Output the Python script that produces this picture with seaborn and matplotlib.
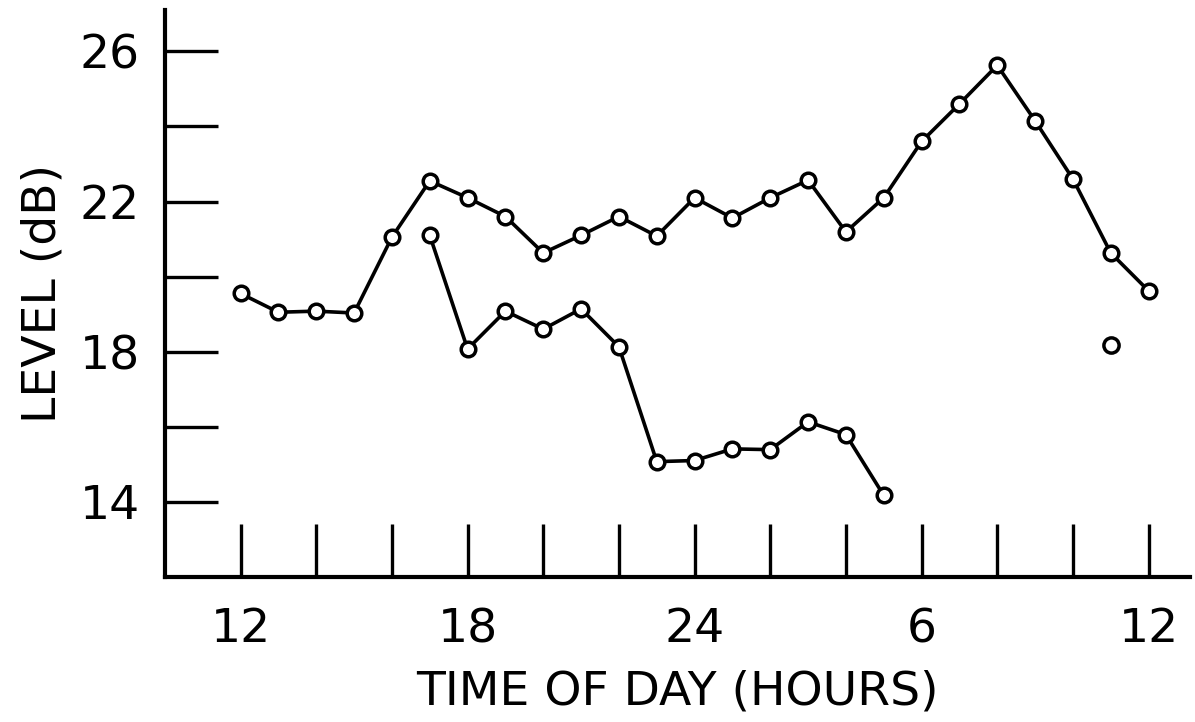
import matplotlib
matplotlib.use("Agg")
import matplotlib.pyplot as plt
import seaborn as sns
import pandas as pd

# hours since noon of day 1 (12 .. 36 = noon next day)
upper_hours = list(range(12, 37))
upper_level = [19.55, 19.05, 19.08, 19.03, 21.05, 22.55, 22.1, 21.6, 20.63, 21.1,
               21.6, 21.08, 22.1, 21.56, 22.1, 22.57, 21.19, 22.1, 23.6, 24.6,
               25.63, 24.15, 22.6, 20.63, 19.62]

lower_hours = list(range(17, 30))
lower_level = [21.1, 18.07, 19.08, 18.6, 19.14, 18.13, 15.07, 15.1, 15.41, 15.39,
               16.13, 15.79, 14.17]

single_hour = [35]
single_level = [18.18]

tick_hours = [12, 18, 24, 30, 36]
tick_names = ["12", "18", "24", "6", "12"]
y_ticks = [14, 18, 22, 26]

sns.set_theme(style="white")
plt.rcParams["font.family"] = ["DejaVu Sans"]
plt.rcParams["text.color"] = "black"
plt.rcParams["axes.labelcolor"] = "black"
plt.rcParams["xtick.color"] = "black"
plt.rcParams["ytick.color"] = "black"

df = pd.concat([
    pd.DataFrame({"hour": upper_hours, "level": upper_level, "run": "a"}),
    pd.DataFrame({"hour": lower_hours, "level": lower_level, "run": "b"}),
])

fig = plt.figure(figsize=(11.95, 7.22), dpi=100)
ax = fig.add_axes([0.138, 0.201, 0.858, 0.785])

mk = dict(marker="o", markersize=10.5, markerfacecolor="white",
          markeredgecolor="black", markeredgewidth=2.5)
sns.lineplot(data=df, x="hour", y="level", units="run", estimator=None,
             color="black", linewidth=2.6, ax=ax, **mk)
sns.scatterplot(x=single_hour, y=single_level, s=120, color="white",
                edgecolor="black", linewidth=2.5, ax=ax, zorder=3)

ax.set_xlim(10, 37.1)
ax.set_ylim(12, 27.1)

ax.set_xticks(range(12, 37, 2), minor=True)
ax.set_xticks(tick_hours)
ax.set_xticklabels(tick_names)
ax.set_yticks(range(14, 27, 2), minor=True)
ax.set_yticks(y_ticks)

ax.tick_params(axis="both", which="both", direction="in", length=38,
               width=2.4, color="black", labelsize=34,
               bottom=True, left=True)
ax.tick_params(axis="x", which="major", pad=22)
ax.tick_params(axis="y", which="major", pad=18)

for side in ["top", "right"]:
    ax.spines[side].set_visible(False)
for side in ["left", "bottom"]:
    ax.spines[side].set_linewidth(3)
    ax.spines[side].set_color("black")

ax.set_xlabel("TIME OF DAY (HOURS)", fontsize=34, labelpad=12)
ax.set_ylabel("LEVEL (dB)", fontsize=34, labelpad=10)

fig.savefig("out.png", dpi=100)
